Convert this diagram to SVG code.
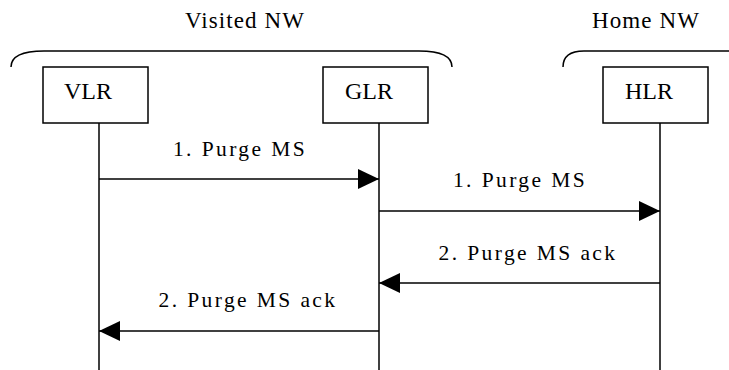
<svg xmlns="http://www.w3.org/2000/svg" width="729" height="370" viewBox="0 0 729 370">
<defs>
<style>
.t{font-family:"Liberation Serif","Times New Roman",serif;fill:#000}
.lbl{font-size:21.5px;letter-spacing:2.4px;text-anchor:middle}
.nw{font-size:23px;letter-spacing:1.1px;text-anchor:middle}
.nm{font-size:24px;text-anchor:middle}
.box{fill:#fff;stroke:#000;stroke-width:1.5}
.ln{stroke:#000;stroke-width:1.5;fill:none}
</style>
<marker id="ah" markerWidth="21" markerHeight="20" refX="21" refY="10" orient="auto" markerUnits="userSpaceOnUse">
<path d="M0,0 L21,10 L0,20 Z" fill="#000"/>
</marker>
</defs>
<rect width="729" height="370" fill="#fff"/>
<g id="visited-nw">
<text class="t nw" x="245" y="28">Visited NW</text>
<path class="ln" d="M11,67 C11,56 24,51 44,51 L419,51 C439,51 452,56 452,67"/>
</g>
<g id="home-nw">
<text class="t nw" x="646" y="28">Home NW</text>
<path class="ln" d="M563,67 C563,57 569,51 584,51 L729,51"/>
</g>
<g id="lifelines">
<line class="ln" x1="99" y1="123" x2="99" y2="370"/>
<line class="ln" x1="379" y1="123" x2="379" y2="370"/>
<line class="ln" x1="660" y1="123" x2="660" y2="370"/>
</g>
<g id="VLR">
<rect class="box" x="43" y="67" width="105" height="56"/>
<text class="t nm" x="88" y="99">VLR</text>
</g>
<g id="GLR">
<rect class="box" x="323" y="67" width="105" height="56"/>
<text class="t nm" x="369" y="99">GLR</text>
</g>
<g id="HLR">
<rect class="box" x="603" y="67" width="105" height="56"/>
<text class="t nm" x="649" y="99">HLR</text>
</g>
<g id="connectors">
<line class="ln" x1="99" y1="179" x2="379" y2="179" marker-end="url(#ah)"/>
<text class="t lbl" x="240" y="156">1. Purge MS</text>
<line class="ln" x1="379" y1="211" x2="660" y2="211" marker-end="url(#ah)"/>
<text class="t lbl" x="520" y="187">1. Purge MS</text>
<line class="ln" x1="660" y1="283" x2="379" y2="283" marker-end="url(#ah)"/>
<text class="t lbl" x="528" y="260">2. Purge MS ack</text>
<line class="ln" x1="379" y1="331" x2="99" y2="331" marker-end="url(#ah)"/>
<text class="t lbl" x="248" y="307">2. Purge MS ack</text>
</g>
</svg>
